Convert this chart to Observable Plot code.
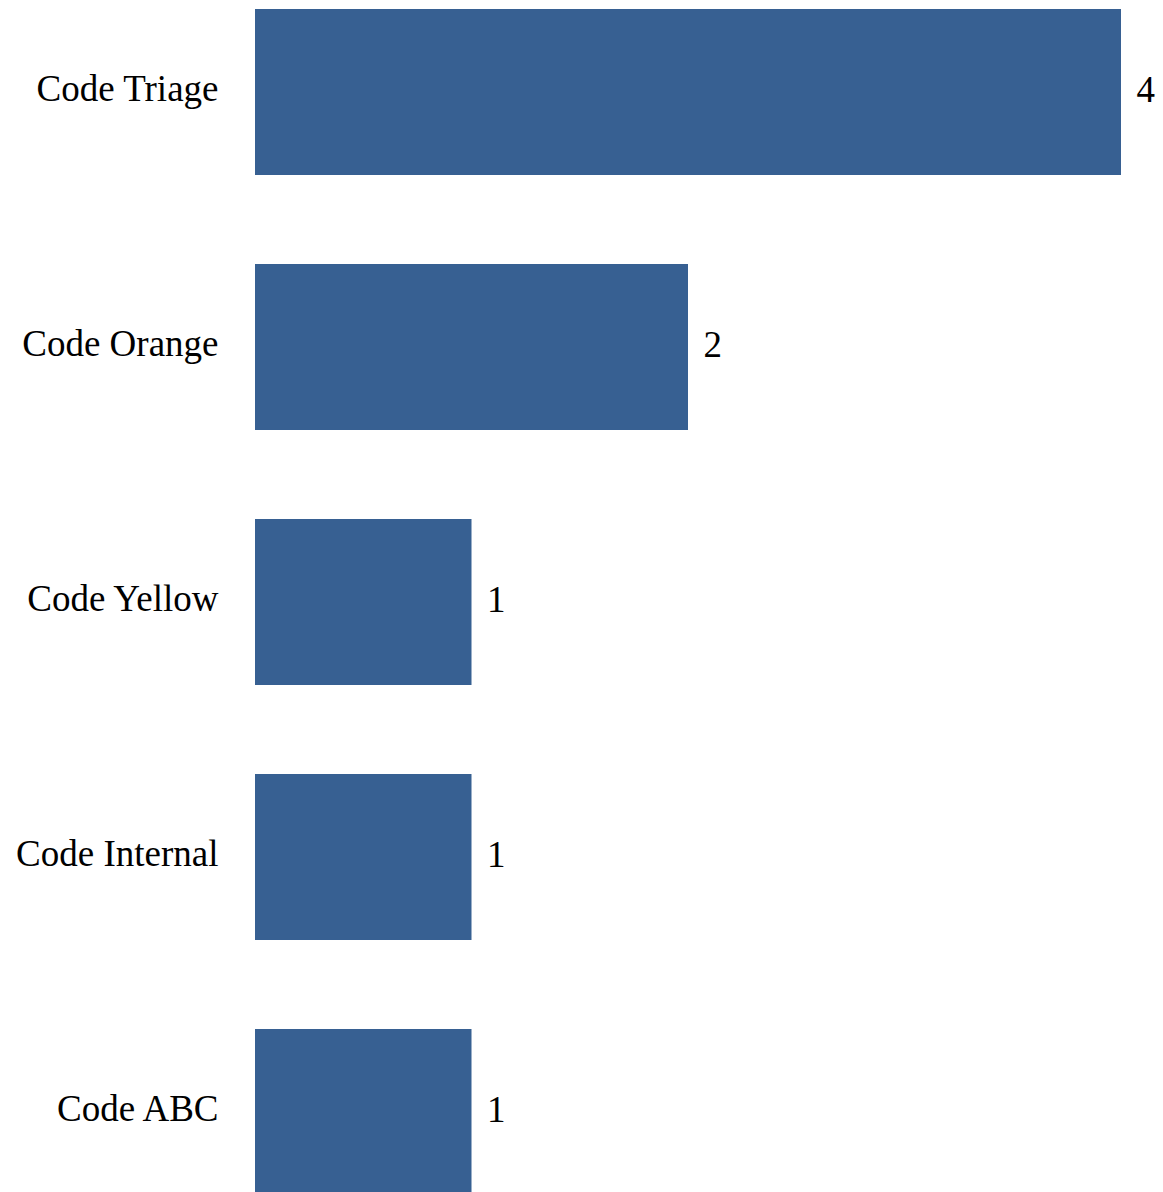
<!DOCTYPE html>
<html>
<head>
<meta charset="utf-8">
<script src="https://cdn.jsdelivr.net/npm/d3@7"></script>
<script src="https://cdn.jsdelivr.net/npm/@observablehq/plot@0.6"></script>
<style>
  html, body { margin: 0; padding: 0; background: #fff; }
  #chart svg { display: block; }
</style>
</head>
<body>
<div id="chart"></div>
<script>
const categories = ["Code Triage", "Code Orange", "Code Yellow", "Code Internal", "Code ABC"];
const counts = [4, 2, 1, 1, 1];

const data = categories.map((c, i) => ({category: c, count: counts[i]}));

const chart = Plot.plot({
  width: 1163,
  height: 1192,
  marginTop: 0,
  marginBottom: 0,
  marginLeft: 0,
  marginRight: 0,
  style: {fontFamily: "'Liberation Serif', serif", fontSize: "37px", color: "#000", background: "#fff"},
  x: {domain: [0, 4], range: [255, 1121], axis: null},
  y: {domain: categories, range: [8, 1196], paddingInner: 0.35, paddingOuter: 0, axis: null},
  marks: [
    Plot.barX(data, {x: "count", y: "category", fill: "#376092"}),
    Plot.text(data, {x: 0, y: "category", text: "category", textAnchor: "end", dx: -37, dy: -3, fill: "#000", fontSize: 37}),
    Plot.text(data, {x: "count", y: "category", text: d => String(d.count), textAnchor: "start", dx: 15, dy: -2, fill: "#000", fontSize: 37})
  ]
});
document.getElementById("chart").appendChild(chart);
</script>
</body>
</html>
